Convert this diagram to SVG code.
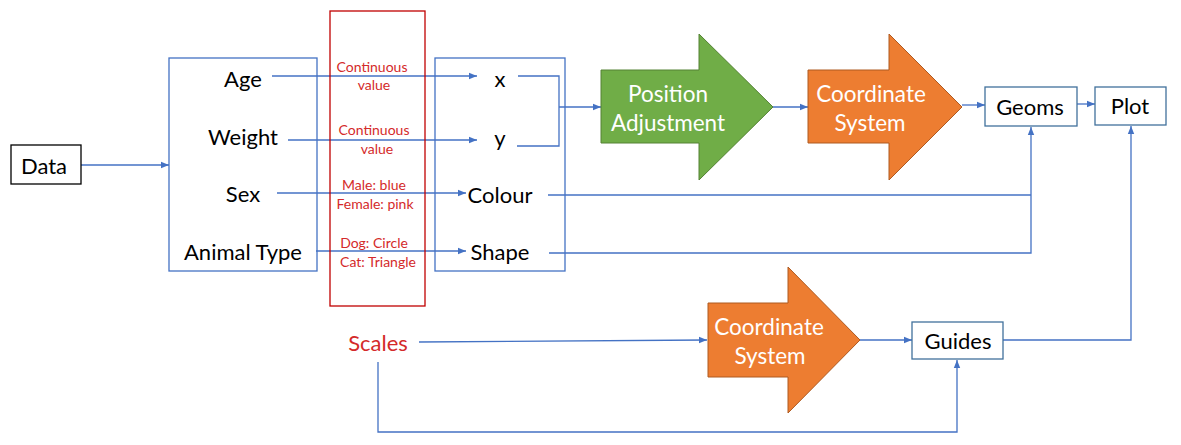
<svg xmlns="http://www.w3.org/2000/svg" width="1181" height="445" viewBox="0 0 1181 445">
<defs>
<marker id="ah" viewBox="0 0 10 10" refX="10" refY="5" markerWidth="8" markerHeight="8" markerUnits="userSpaceOnUse" orient="auto">
<path d="M0,1 L10,5 L0,9 Z" fill="#4472C4"/>
</marker>
<style>
.t{font-family:Lato,"Open Sans",sans-serif;font-size:22px;fill:#000;text-anchor:middle;dominant-baseline:central}
.r{font-family:Lato,"Open Sans",sans-serif;font-size:14px;fill:#D42A2A;text-anchor:middle;dominant-baseline:central}
.w{font-family:Lato,"Open Sans",sans-serif;font-size:22.5px;fill:#fff;text-anchor:middle;dominant-baseline:central}
.c{fill:none;stroke:#4472C4;stroke-width:1.3}
.a{marker-end:url(#ah)}
.bx{fill:#fff;stroke:#41719C;stroke-width:1.3}
</style>
</defs>
<rect width="1181" height="445" fill="#fff"/>
<g id="connectors">
<path class="c a" d="M81,165 H169"/>
<path class="c a" d="M272,76 H477"/>
<path class="c a" d="M288,140 H477"/>
<path class="c a" d="M277,193 H466"/>
<path class="c a" d="M316,251 H466"/>
<path class="c" d="M518,76 H559 V146 H517"/>
<path class="c a" d="M559,107 H601"/>
<path class="c a" d="M773,107 H808"/>
<path class="c a" d="M962,105 H985"/>
<path class="c a" d="M1077,104 H1095"/>
<path class="c" d="M548,195 H1031"/>
<path class="c a" d="M549,253 H1031 V127"/>
<path class="c a" d="M419,342 L707,340"/>
<path class="c a" d="M860,340 H912"/>
<path class="c a" d="M378,362 V432 H957 V360"/>
<path class="c a" d="M1003,340 H1131 V126"/>
</g>
<g id="data">
<rect x="11" y="145" width="70" height="39" fill="#fff" stroke="#000" stroke-width="1.3"/>
<text class="t" x="44" y="165">Data</text>
</g>
<g id="variables">
<rect x="169" y="58" width="148" height="213" fill="none" stroke="#4472C4" stroke-width="1.3"/>
<text class="t" x="243" y="78">Age</text>
<text class="t" x="243" y="136">Weight</text>
<text class="t" x="243" y="193">Sex</text>
<text class="t" x="243" y="251">Animal Type</text>
</g>
<g id="scales-box">
<rect x="330" y="11" width="95" height="295" fill="none" stroke="#C00000" stroke-width="1.3"/>
<text class="r" x="372" y="66">Continuous</text>
<text class="r" x="374" y="84">value</text>
<text class="r" x="374" y="129">Continuous</text>
<text class="r" x="377" y="148">value</text>
<text class="r" x="374" y="184">Male: blue</text>
<text class="r" x="375" y="203">Female: pink</text>
<text class="r" x="374" y="242">Dog: Circle</text>
<text class="r" x="378" y="261">Cat: Triangle</text>
</g>
<g id="aesthetics">
<rect x="435" y="58" width="130" height="213" fill="none" stroke="#4472C4" stroke-width="1.3"/>
<text class="t" x="500" y="78">x</text>
<text class="t" x="500" y="137">y</text>
<text class="t" x="500" y="194">Colour</text>
<text class="t" x="500" y="251">Shape</text>
</g>
<g id="position-adjustment">
<path d="M601,70 H699 V34 L773,107 L699,180 V143 H601 Z" fill="#70AD47" stroke="#548235" stroke-width="1"/>
<text class="w" x="668" y="93">Position</text>
<text class="w" x="668" y="122">Adjustment</text>
</g>
<g id="coordinate-system-1">
<path d="M808,70 H889 V34 L962,107 L889,180 V143 H808 Z" fill="#ED7D31" stroke="#AE5A21" stroke-width="1"/>
<text class="w" x="871" y="93">Coordinate</text>
<text class="w" x="870" y="122">System</text>
</g>
<g id="geoms">
<rect class="bx" x="985" y="87" width="92" height="39"/>
<text class="t" x="1030" y="106">Geoms</text>
</g>
<g id="plot">
<rect class="bx" x="1095" y="87" width="71" height="38"/>
<text class="t" x="1130" y="105">Plot</text>
</g>
<g id="scales">
<text x="378" y="342" style="font-family:Lato,'Open Sans',sans-serif;font-size:22px;fill:#D42A2A;text-anchor:middle;dominant-baseline:central">Scales</text>
</g>
<g id="coordinate-system-2">
<path d="M708,303 H788 V267 L860,340 L788,413 V377 H708 Z" fill="#ED7D31" stroke="#AE5A21" stroke-width="1"/>
<text class="w" x="769" y="326">Coordinate</text>
<text class="w" x="770" y="355">System</text>
</g>
<g id="guides">
<rect class="bx" x="912" y="322" width="91" height="37"/>
<text class="t" x="958" y="340">Guides</text>
</g>
</svg>
